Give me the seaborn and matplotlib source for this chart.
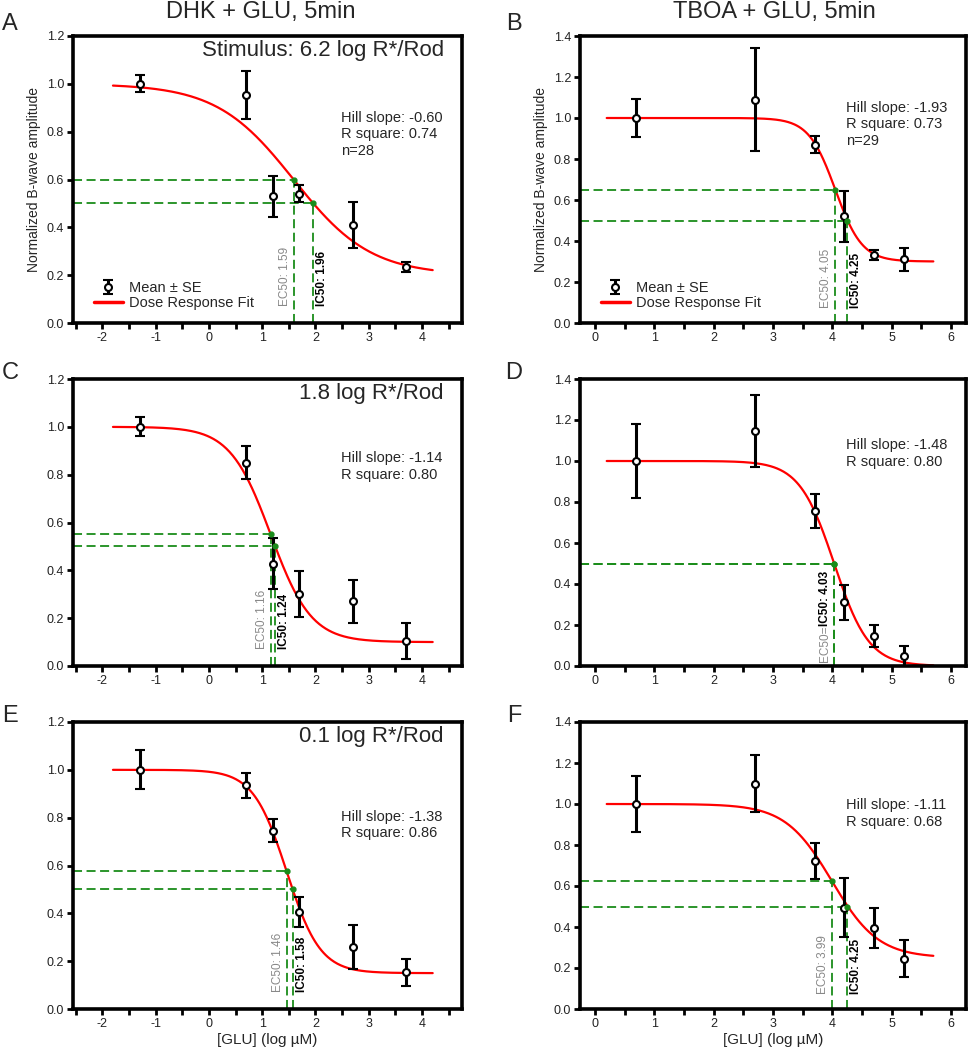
import numpy as np
import matplotlib
matplotlib.use("Agg")
import matplotlib.pyplot as plt
import seaborn as sns
from matplotlib.lines import Line2D
from matplotlib.ticker import MultipleLocator, FormatStrFormatter

sns.set_theme(style="ticks")
plt.rcParams["font.family"] = ["Liberation Sans", "DejaVu Sans"]
plt.rcParams["axes.unicode_minus"] = False

# log [GLU] (uM) tested in each series
DHK_LOGC = [-1.3, 0.7, 1.2, 1.7, 2.7, 3.7]
TBOA_LOGC = [0.7, 2.7, 3.7, 4.2, 4.7, 5.2]

# normalized b-wave, mean and SE
A_MEAN = [1.00, 0.955, 0.53, 0.54, 0.41, 0.235]
A_SE = [0.035, 0.10, 0.085, 0.035, 0.097, 0.02]
B_MEAN = [1.00, 1.09, 0.87, 0.52, 0.33, 0.31]
B_SE = [0.095, 0.25, 0.04, 0.124, 0.025, 0.055]
C_MEAN = [1.00, 0.85, 0.427, 0.30, 0.27, 0.105]
C_SE = [0.04, 0.07, 0.107, 0.097, 0.09, 0.075]
D_MEAN = [1.00, 1.147, 0.758, 0.31, 0.146, 0.048]
D_SE = [0.18, 0.175, 0.083, 0.087, 0.052, 0.05]
E_MEAN = [1.00, 0.935, 0.746, 0.405, 0.26, 0.153]
E_SE = [0.082, 0.053, 0.047, 0.063, 0.092, 0.055]
F_MEAN = [1.00, 1.10, 0.72, 0.494, 0.396, 0.246]
F_SE = [0.136, 0.137, 0.088, 0.144, 0.098, 0.092]

# dose-response fits: (top, bottom, logEC50, hill slope), plus IC50
A_FIT = (1.0, 0.20, 1.59, -0.60)
B_FIT = (1.0, 0.30, 4.05, -1.93)
C_FIT = (1.0, 0.10, 1.16, -1.14)
D_FIT = (1.0, 0.00, 4.03, -1.48)
E_FIT = (1.0, 0.15, 1.46, -1.38)
F_FIT = (1.0, 0.25, 3.99, -1.11)
IC50 = {"A": 1.96, "B": 4.25, "C": 1.24, "D": 4.03, "E": 1.58, "F": 4.25}
R2 = {"A": 0.74, "B": 0.73, "C": 0.80, "D": 0.80, "E": 0.86, "F": 0.68}
N = {"A": 28, "B": 29}
STIM = {"A": "Stimulus: 6.2 log R*/Rod", "C": "1.8 log R*/Rod", "E": "0.1 log R*/Rod"}

GREEN = "#1a8c1a"


def dose_response(x, top, bottom, logec50, hill):
    return bottom + (top - bottom) / (1 + 10 ** ((logec50 - x) * hill))


def draw_panel(ax, key, logc, mean, se, fit, xlim, ylim, xrange_fit, stats_y, legend=False):
    top, bottom, ec50, hill = fit
    ic50 = IC50[key]

    ax.set_xlim(*xlim)
    ax.set_ylim(*ylim)

    xs = np.linspace(xrange_fit[0], xrange_fit[1], 300)
    sns.lineplot(x=xs, y=dose_response(xs, *fit), ax=ax, color="red", lw=1.6, zorder=2)

    eb = ax.errorbar(logc, mean, yerr=se, fmt="o", ms=5, mfc="white", mec="black", mew=1.5,
                     ecolor="black", elinewidth=2.2, capsize=3.5, capthick=2.2, zorder=3)

    # green guide lines at the half-max (EC50) and at 0.5 (IC50)
    y_mid = (top + bottom) / 2
    dash = dict(color=GREEN, lw=1.3, ls=(0, (5, 2.5)), zorder=1)
    ax.plot([xlim[0], ec50], [y_mid, y_mid], **dash)
    ax.plot([ec50, ec50], [0, y_mid], **dash)
    ax.plot([xlim[0], ic50], [0.5, 0.5], **dash)
    ax.plot([ic50, ic50], [0, 0.5], **dash)
    ax.plot([ec50, ic50], [y_mid, 0.5], "o", color=GREEN, ms=3.5, zorder=4)

    ytxt = 0.015 * (ylim[1] - ylim[0]) / 1.2
    if ec50 == ic50:
        t1 = ax.text(ec50 - 0.05, ytxt, "EC50=", rotation=90, ha="right", va="bottom",
                     color="#888888", fontsize=8.5)
        ax.figure.canvas.draw()
        bb = t1.get_window_extent().transformed(ax.transData.inverted())
        ax.text(ec50 - 0.05, bb.y1, f"IC50: {ic50:.2f}", rotation=90, ha="right", va="bottom",
                color="black", fontsize=8.5, fontweight="bold")
    else:
        ax.text(ec50 - 0.05, ytxt + 0.055, f"EC50: {ec50:.2f}", rotation=90, ha="right", va="bottom",
                color="#888888", fontsize=8.5)
        ax.text(ic50 + 0.05, ytxt + 0.055, f"IC50: {ic50:.2f}", rotation=90, ha="left", va="bottom",
                color="black", fontsize=8.5, fontweight="bold")

    lines = [f"Hill slope: {hill:.2f}", f"R square: {R2[key]:.2f}"]
    if key in N:
        lines.append(f"n={N[key]}")
    ax.text(0.69, stats_y, "\n".join(lines), transform=ax.transAxes, ha="left", va="top",
            fontsize=10.5, linespacing=1.25)

    if key in STIM:
        ax.text(0.953, 0.985, STIM[key], transform=ax.transAxes, ha="right", va="top", fontsize=16)

    ax.xaxis.set_major_locator(MultipleLocator(1))
    ax.xaxis.set_minor_locator(MultipleLocator(0.5))
    ax.yaxis.set_major_locator(MultipleLocator(0.2))
    ax.yaxis.set_major_formatter(FormatStrFormatter("%.1f"))
    ax.tick_params(which="both", direction="out", length=4.5, width=2, color="black",
                   labelsize=9, pad=2, labelcolor="#222222")
    for s in ax.spines.values():
        s.set_linewidth(2.6)
        s.set_color("black")
        s.set_visible(True)

    if legend:
        handles = [eb, Line2D([], [], color="red", lw=2.5)]
        ax.legend(handles, ["Mean \u00b1 SE", "Dose Response Fit"], loc="lower left",
                  bbox_to_anchor=(0.02, 0.0), frameon=False, fontsize=10.5,
                  handlelength=2.0, labelspacing=0.05, handletextpad=0.4)


fig = plt.figure(figsize=(9.69, 10.5), dpi=100)

W, H = 969, 1050
col_left = [73, 580]
col_width = [389, 386]
row_top = [36, 379, 722]
row_h = 287

panels = [
    ("A", 0, 0, DHK_LOGC, A_MEAN, A_SE, A_FIT, 0.74),
    ("B", 0, 1, TBOA_LOGC, B_MEAN, B_SE, B_FIT, 0.775),
    ("C", 1, 0, DHK_LOGC, C_MEAN, C_SE, C_FIT, 0.75),
    ("D", 1, 1, TBOA_LOGC, D_MEAN, D_SE, D_FIT, 0.795),
    ("E", 2, 0, DHK_LOGC, E_MEAN, E_SE, E_FIT, 0.695),
    ("F", 2, 1, TBOA_LOGC, F_MEAN, F_SE, F_FIT, 0.735),
]

for key, r, c, logc, mean, se, fit, sy in panels:
    left = col_left[c] / W
    bottom = 1 - (row_top[r] + row_h) / H
    ax = fig.add_axes([left, bottom, col_width[c] / W, row_h / H])
    if c == 0:
        xlim, ylim, xr = (-2.55, 4.75), (0, 1.2), (-1.8, 4.2)
    else:
        xlim, ylim, xr = (-0.25, 6.25), (0, 1.4), (0.2, 5.7)
    draw_panel(ax, key, logc, mean, se, fit, xlim, ylim, xr, sy, legend=(r == 0))
    if r == 0:
        ax.set_ylabel("Normalized B-wave amplitude", fontsize=10, labelpad=4)
    if r == 2:
        ax.set_xlabel("[GLU] (log \u00b5M)", fontsize=11, labelpad=2)
    lx = 10 if c == 0 else 514
    ly = [24, 373, 716][r]
    fig.text(lx / W, 1 - ly / H, key, fontsize=17, ha="center", va="center")

fig.text(261 / W, 1 - 12 / H, "DHK + GLU, 5min", fontsize=17, ha="center", va="center")
fig.text(774 / W, 1 - 12 / H, "TBOA + GLU, 5min", fontsize=17, ha="center", va="center")

fig.savefig("out.png", dpi=100)
